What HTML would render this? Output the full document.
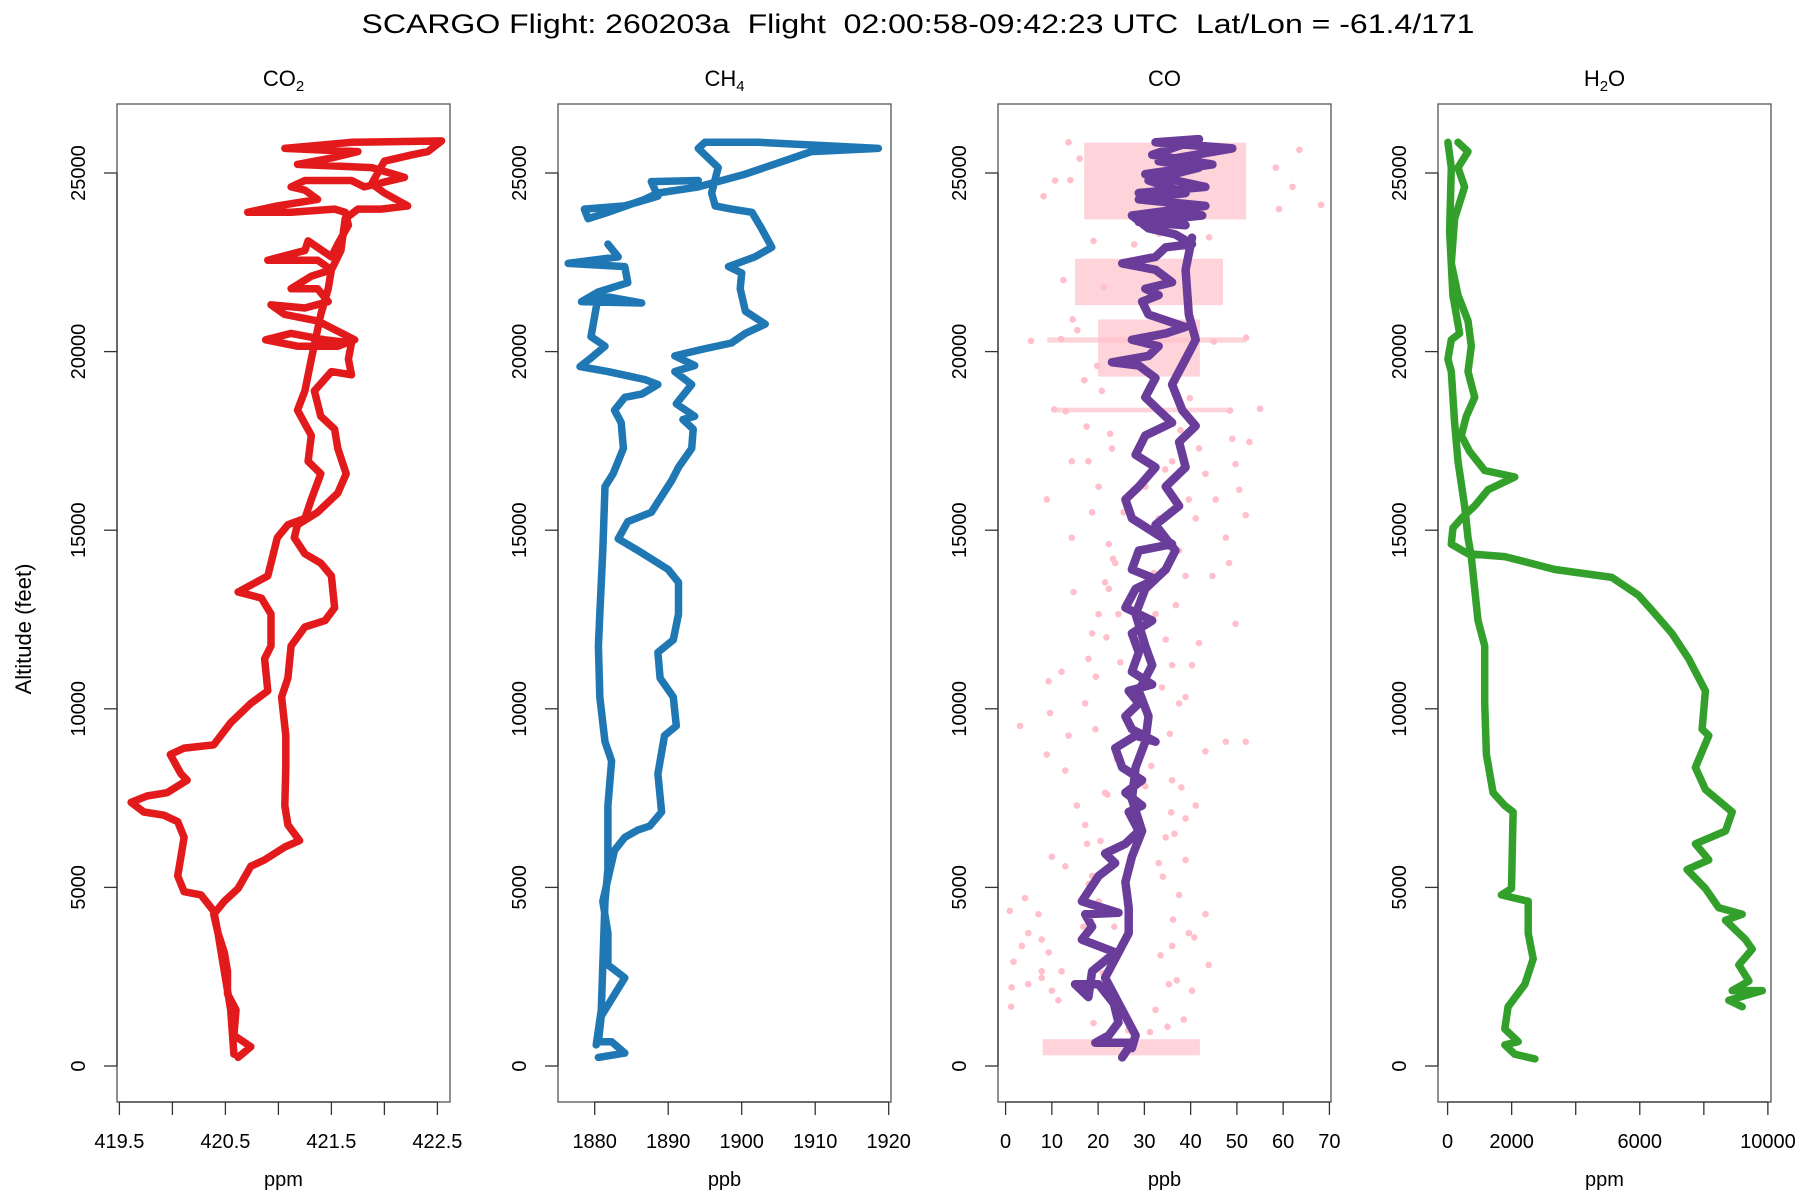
<!DOCTYPE html>
<html><head><meta charset="utf-8"><style>
html,body{margin:0;padding:0;background:#fff}
svg{display:block;font-family:"Liberation Sans",Arial,sans-serif}
</style></head><body>
<svg id="fig" width="1800" height="1200" viewBox="0 0 1800 1200">
<text x="918" y="33" font-size="27" text-anchor="middle" textLength="1113" lengthAdjust="spacingAndGlyphs" style="white-space:pre" xml:space="preserve">SCARGO Flight: 260203a  Flight  02:00:58-09:42:23 UTC  Lat/Lon = -61.4/171</text>
<text transform="translate(31,629) rotate(-90)" font-size="22" text-anchor="middle">Altitude (feet)</text>
</svg>
<script>
// ---- data ----
const altTicks=[0,5000,10000,15000,20000,25000];
const co2Ticks=[419.5,420,420.5,421,421.5,422,422.5];
const co2TickLabels=['419.5','','420.5','','421.5','','422.5'];
const ch4Ticks=[1880,1890,1900,1910,1920];
const ch4TickLabels=['1880','1890','1900','1910','1920'];
const coTicks=[0,10,20,30,40,50,60,70];
const coTickLabels=['0','10','20','30','40','50','60','70'];
const h2oTicks=[0,2000,4000,6000,8000,10000];
const h2oTickLabels=['0','2000','','6000','','10000'];

const co2Values=[420.62,420.74,420.58,420.60,420.52,420.52,420.49,420.43,420.39,420.49,420.62,420.74,420.87,421.06,421.20,421.09,421.06,421.07,421.07,421.03,421.09,421.12,421.25,421.44,421.53,421.50,421.40,421.25,421.15,421.18,421.37,421.56,421.64,421.56,421.53,421.40,421.34,421.50,421.69,421.66,421.69,421.44,421.12,420.88,421.18,421.56,421.72,421.37,421.06,420.93,421.25,421.47,421.37,421.12,421.31,421.50,421.37,420.90,421.25,421.28,421.50,421.56,421.66,421.63,421.53,421.12,420.71,420.99,421.37,421.25,421.12,421.25,421.69,421.81,422.19,421.88,421.18,421.50,421.75,421.06,421.69,422.54,
422.41,422.26,422.00,421.88,422.00,422.22,421.97,421.75,421.63,421.59,421.50,421.47,421.40,421.31,421.25,421.18,421.31,421.28,421.40,421.31,421.25,421.09,420.99,420.93,420.90,420.62,420.84,420.93,420.93,420.87,420.90,420.74,420.55,420.39,420.11,419.98,420.08,420.14,419.95,419.76,419.61,419.73,419.92,420.05,420.11,420.08,420.05,420.11,420.27,420.39,420.43,420.49,420.55,420.58];
const co2Alts=[240,540,860,1570,2020,2650,3180,3720,4250,4610,4970,5590,5770,6130,6310,6750,7290,8360,9250,10330,10860,11760,12290,12470,12830,13720,14080,14340,14790,15150,15500,16040,16580,17290,17830,18190,18900,19440,19350,19790,20240,20330,20510,20330,20150,20150,20330,20860,21040,21310,21220,21400,21760,21760,22110,22290,22560,22560,22830,23100,22650,23010,23540,23900,23990,23900,23900,24080,24260,24520,24610,24790,24790,24610,24880,25150,25240,25420,25600,25690,25860,25900,
25600,25510,25330,24700,24440,24080,23990,23990,23720,22830,22290,21760,21040,19790,18900,18360,17650,16930,16580,15860,15330,15150,14790,14080,13720,13270,13100,12650,11760,11400,10500,10150,9610,8990,8900,8720,8180,8000,7650,7560,7380,7110,7020,6840,6400,5860,5320,4880,4790,4340,3720,2650,1570,330];

const ch4Values=[1880.5,1884.1,1882.3,1880.5,1880.9,1884.1,1881.8,1881.8,1881.1,1882.7,1884.1,1885.9,1887.5,1889.1,1888.6,1889.5,1891.1,1890.7,1888.9,1888.6,1890.7,1891.4,1891.4,1890.0,1885.9,1883.2,1884.5,1887.7,1890.5,1891.4,1893.2,1893.4,1892.0,1893.6,1891.1,1893.2,1890.9,1893.6,1890.9,1894.5,1898.6,1900.5,1903.2,1900.5,1899.8,1900.0,1898.2,1901.8,1904.1,1902.7,1901.4,1898.6,1896.4,1895.9,1896.8,1894.1,1895.0,1902.3,1918.6,1909.5,1900.5,1894.1,1888.6,1886.8,1881.8,1879.1,1878.6,1884.1,1888.6,1887.7,1894.1,null,
1881.8,1883.2,1876.4,1884.1,1884.5,1880.5,1878.2,1886.4,1880.5,1879.5,1881.4,1879.3,1878.0,1881.8,1886.8,1888.6,1886.4,1884.1,1882.7,1883.6,1883.9,1882.5,1881.4,1881.1,1880.7,1880.5,1880.7,1881.4,1882.3,1881.8,1881.8,1881.4,1881.1,1880.9,1880.2];
const ch4Alts=[240,360,680,680,1400,2470,2830,3720,4610,6040,6400,6610,6720,7110,8180,9250,9520,10330,10860,11580,11930,12650,13540,13900,14430,14760,15240,15500,16400,16760,17290,17830,18100,18190,18540,19080,19440,19610,19880,20060,20240,20510,20770,21130,21760,22200,22380,22650,22920,23450,23900,23990,24080,24440,25150,25690,25860,25860,25690,25600,24970,24610,24440,24260,23900,23720,23990,24080,24350,24760,24790,null,
23010,22650,22470,22380,21930,21670,21400,21360,21580,20420,20150,19790,19580,19440,19220,19080,18810,18720,18360,18010,17290,16580,16220,14430,12650,11760,10330,9080,8540,7290,5500,4610,2830,1570,590];

const coValues=[25.2,27.3,19.4,22.3,24.4,23.4,20.1,15.0,17.9,18.7,23.7,20.1,16.5,18.7,17.2,24.4,16.5,20.1,23.7,21.5,25.9,28.8,26.6,29.5,25.9,29.5,25.2,23.7,28.1,32.4,27.3,25.9,28.8,26.6,31.7,27.3,28.8,27.3,31.7,25.9,28.1,32.4,27.3,28.8,36.0,31.7,27.3,25.9,28.8,32.4,28.1,30.2,36.0,33.1,30.2,32.4,28.8,23.0,30.9,33.1,27.3,34.6,38.9,30.9,29.5,33.1,30.2,36.0,32.4,25.2,32.4,34.6,40.3,36.7,30.9,27.3,32.4,43.2,28.8,38.9,30.9,41.8,33.1,49.0,32.4,41.8,31.7,44.7,30.2,43.2,28.8,42.5,28.8,38.9,null,
40.3,38.9,39.6,41.1,38.9,36.0,38.2,41.1,37.5,38.9,34.6,37.5,32.4,36.7,34.6,30.2,28.1,30.2,31.7,28.8,30.9,30.2,28.1,27.3,29.5,27.3,25.9,26.6,26.6,23.7,21.5,25.9,28.1,27.3];
const coAlts=[240,650,650,860,1220,1750,2290,2290,1930,2650,3180,3360,3540,3900,4250,4290,4610,5320,5680,5950,6220,6580,7110,7290,7650,8000,8360,8900,9250,9080,9430,9790,10150,10500,10680,11040,11580,12110,12470,12830,13360,13630,13900,14430,14610,14970,15330,15860,16220,16760,17110,17650,18010,18360,18720,19260,19610,19700,19880,20150,20330,20510,20690,21040,21400,21580,21760,21940,22290,22470,22650,22920,23010,23280,23450,23810,23900,24080,24260,24440,24790,25150,25330,25690,25860,25950,25510,25240,24970,24610,24440,23810,23630,23540,null,
23190,22290,21040,20330,19790,19080,18360,17920,17470,16760,16220,15680,15150,14430,13900,13360,12650,11760,11220,10500,9790,9080,8360,7470,6580,5860,5150,4430,3720,3000,2470,1400,860,500];

const coBandAltLo=[23700,21300,19300,20250,18300,300];
const coBandAltHi=[25850,22600,20900,20400,18430,750];
const coBandMin=[17,15,20,9,11,8];
const coBandMax=[52,47,42,52,48,42];

const coScatterValues=[0.9,1.7,1.3,1.2,3.1,9.3,8.9,14.3,14.3,14.7,12.1,9.6,13.6,8.9,12.9,15.4,17.2,17.6,10.0,12.9,4.2,7.1,4.9,7.8,3.5,9.3,12.1,7.8,4.9,10.0,11.4,7.8,18.7,20.1,22.3,33.1,38.9,43.2,43.9,40.3,35.3,32.4,36.0,39.6,37.5,34.6,38.9,41.1,43.2,47.6,51.9,49.7,41.8,40.3,38.9,37.5,36.0,34.6,32.4,20.1,18.7,17.9,17.2,19.4,21.5,30.2,36.0,44.7,48.3,47.6,51.9,50.5,45.4,43.2,41.8,49.0,52.7,49.7,20.1,18.7,22.3,23.7,21.5,24.4,37.5,38.9,33.1,39.6,41.1,17.9,23.0,36.0,30.2,22.3,68.2,62.0,63.5,8.2,10.7,13.6,58.4,59.1,5.5,12.0,45.0,52.0,10.5,13.0,48.5,55.0,
19.0,21.0,23.5,35.0,37.0,33.5,18.0,20.5,22.0,34.0,36.5,38.0,24.0,26.0,35.5,19.5,21.8,33.8,36.8,23.2,25.5,32.0,34.5,17.5,20.8,22.6,37.8,39.8,19.8,24.8,31.5,35.8,16.8,18.2,36.2,40.8,22.8,26.5,31.2,38.5,15.5,21.2,27.8,33.2,44.0,12.5,14.0,16.0,19.0,14.5,17.0];
const coScatterAlts=[4340,2920,2200,1660,9520,10770,15860,16930,14790,13270,11040,9880,9250,8720,8270,7290,6750,6220,5860,5590,4700,4250,3720,3540,3360,3180,2650,2470,2290,2110,1840,2650,5320,4610,5860,5680,5770,4250,2830,2110,2290,1570,3360,3720,4790,6400,6930,7290,8810,9080,9080,12380,11840,11220,10330,10150,11220,11940,12650,12650,12110,11400,10150,9430,7650,7830,8000,13720,14080,14790,15420,16130,15860,16580,17290,17560,17470,16850,16220,15500,14610,14080,13540,12650,14430,13720,15330,15860,15330,16930,17290,16930,16220,13360,24110,24610,25650,24350,24790,25860,25150,23990,20300,20350,20280,20390,18380,18330,18350,18400,
1200,2600,3900,1100,2400,3100,5100,6300,7600,5300,6500,7800,8600,9700,9300,10900,12000,10600,12900,14200,15500,13800,16700,17900,18900,17700,17800,18700,19600,11300,8400,7100,3900,4500,4100,3600,700,1000,950,1300,20600,21800,23000,23300,23200,22000,24800,25400,23100,20900,19200];

const h2oValues=[324,637,324,532,219,115,324,637,741,637,846,585,428,689,1159,2098,1263,846,428,167,115,637,1785,3351,5126,5961,6483,7005,7527,8049,7945,8154,7736,8049,8884,8676,7736,8154,7475,8049,8467,9198,8676,9302,9511,9093,9407,8884,9824,8780,9198,null,
2725,2098,1785,2203,1785,1890,2412,2673,2516,2516,2098,1681,1994,2046,1785,1420,1211,1159,1159,950,741,637,532,324,219,115,10,115,376,167,62,115,10];
const h2oAlts=[25860,25600,25150,24610,23720,22470,21580,20860,20150,19440,18720,18190,17650,17200,16670,16490,16130,15680,15330,15060,14610,14340,14260,13900,13680,13180,12650,12110,11400,10500,9430,9250,8360,7740,7110,6580,6220,5770,5500,4970,4430,4250,4080,3540,3270,2830,2380,2110,2110,1840,1660,null,
200,330,590,680,1040,1660,2290,3000,3720,4610,4700,4790,4970,7110,7290,7650,8720,10150,11760,12470,14260,14790,15680,16930,18010,19440,19790,20330,20510,21580,23370,25150,25860];

// ---- layout ----
const NS='http://www.w3.org/2000/svg';
const svg=document.getElementById('fig');
const Y=a=>1066-a*0.035720;
const panels=[
 {key:'co2',left:117,right:450,x:v=>119.4+(v-419.5)*106,ticks:co2Ticks,labels:co2TickLabels,title:['CO','2'],unit:'ppm'},
 {key:'ch4',left:558,right:891,x:v=>594.7+(v-1880)*7.35,ticks:ch4Ticks,labels:ch4TickLabels,title:['CH','4'],unit:'ppb'},
 {key:'co',left:998,right:1331,x:v=>1005.6+v*4.626,ticks:coTicks,labels:coTickLabels,title:['CO',''],unit:'ppb'},
 {key:'h2o',left:1438,right:1771,x:v=>1447.6+v*0.032030,ticks:h2oTicks,labels:h2oTickLabels,title:['H','2','O'],unit:'ppm'}
];
const TOP=104,BOT=1102;
function mk(tag,attrs,parent){const e=document.createElementNS(NS,tag);for(const k in attrs)e.setAttribute(k,attrs[k]);(parent||svg).appendChild(e);return e;}
function pathD(xs,ys,fx){let d='',pen=false;for(let i=0;i<xs.length;i++){if(xs[i]===null){pen=false;continue;}d+=(pen?'L':'M')+fx(xs[i]).toFixed(1)+' '+Y(ys[i]).toFixed(1);pen=true;}return d;}

panels.forEach(p=>{
 const g=mk('g',{});
 
 
 const cp=mk('clipPath',{id:'clip-'+p.key},g);
 mk('rect',{x:p.left,y:TOP,width:p.right-p.left,height:BOT-TOP},cp);
 const plot=mk('g',{'clip-path':'url(#clip-'+p.key+')'},g);
 
 
 p.plot=plot;
 const t=mk('text',{x:(p.left+p.right)/2,y:86,'font-size':22,'text-anchor':'middle'},g);
 
 
 t.appendChild(document.createTextNode(p.title[0]));
 if(p.title[1]){const s=mk('tspan',{'font-size':15,dy:5},t);s.textContent=p.title[1];}
 if(p.title[2]){const s=mk('tspan',{dy:-5},t);s.textContent=p.title[2];}
 const fr=mk('rect',{x:p.left,y:TOP,width:p.right-p.left,height:BOT-TOP,fill:'none',stroke:'#555','stroke-width':1.3},g);
 
 
 const xa=mk('g',{},g);
 
 
 const x0=p.x(p.ticks[0]),x1=p.x(p.ticks[p.ticks.length-1]);
 mk('line',{x1:x0,x2:x1,y1:BOT,y2:BOT,stroke:'#333','stroke-width':1.3},xa);
 p.ticks.forEach((v,i)=>{
  const xx=p.x(v);
  mk('line',{x1:xx,x2:xx,y1:BOT,y2:BOT+13,stroke:'#333','stroke-width':1.3},xa);
  if(p.labels[i]){const l=mk('text',{x:xx,y:1148,'font-size':20,'text-anchor':'middle'},xa);
   
   
   l.textContent=p.labels[i];}
 });
 const u=mk('text',{x:(p.left+p.right)/2,y:1186,'font-size':20,'text-anchor':'middle'},g);
 
 
 u.textContent=p.unit;
 const ya=mk('g',{},g);
 
 
 mk('line',{x1:p.left,x2:p.left,y1:Y(altTicks[0]),y2:Y(altTicks[altTicks.length-1]),stroke:'#333','stroke-width':1.3},ya);
 altTicks.forEach(a=>{
  mk('line',{x1:p.left-13,x2:p.left,y1:Y(a),y2:Y(a),stroke:'#333','stroke-width':1.3},ya);
  const l=mk('text',{transform:'translate('+(p.left-32)+','+Y(a)+') rotate(-90)','font-size':20,'text-anchor':'middle'},ya);
  
  
  l.textContent=String(a);
 });
});

function series(p,xs,ys,color,w,name){
 const e=mk('path',{d:pathD(xs,ys,p.x),fill:'none',stroke:color,'stroke-width':w,'stroke-linejoin':'round','stroke-linecap':'round'},p.plot);
 
 
}
series(panels[0],co2Values,co2Alts,'#e31a1c',7.5,'co2-profile');
series(panels[1],ch4Values,ch4Alts,'#1f78b4',7.5,'ch4-profile');
const pc=panels[2];
coBandAltLo.forEach((lo,i)=>{
 const r=mk('rect',{x:pc.x(coBandMin[i]),y:Y(coBandAltHi[i]),width:pc.x(coBandMax[i])-pc.x(coBandMin[i]),height:Y(lo)-Y(coBandAltHi[i]),fill:'#ffc0cb','fill-opacity':0.7},pc.plot);
 
 
});
coScatterValues.forEach((v,i)=>{
 const c=mk('circle',{cx:pc.x(v),cy:Y(coScatterAlts[i]),r:3.3,fill:'#ffc0cb'},pc.plot);
 
 
});
series(pc,coValues,coAlts,'#6a3d9a',8.5,'co-smoothed-profile');
series(panels[3],h2oValues,h2oAlts,'#33a02c',7.5,'h2o-profile');
</script>
</body></html>
